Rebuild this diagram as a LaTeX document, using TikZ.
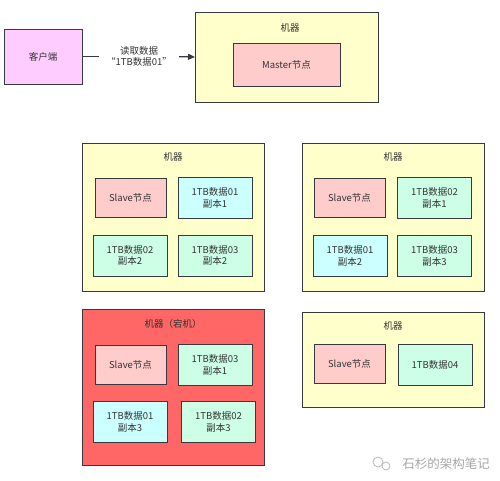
\documentclass[tikz,border=0pt]{standalone}
\usepackage{fontspec}
\setmainfont{Noto Sans CJK SC}
\usetikzlibrary{arrows.meta}
\definecolor{bordc}{HTML}{36393D}
\definecolor{txtc}{HTML}{333333}
\definecolor{machy}{HTML}{FFFFCC}
\definecolor{pinkc}{HTML}{FFCCCC}
\definecolor{cyanc}{HTML}{CCFFFF}
\definecolor{mintc}{HTML}{CCFFE6}
\definecolor{redc}{HTML}{FF6666}
\definecolor{clientc}{HTML}{FFCCFF}
\begin{document}
\begin{tikzpicture}[x=1pt,y=-1pt,
  box/.style={draw=bordc, line width=1pt, inner sep=0pt, outer sep=0pt, text=txtc,
    font=\fontsize{9.5}{11.5}\selectfont, align=center},
  machine/.style={box, fill=machy},
  slave/.style={box, fill=pinkc, minimum width=71pt, minimum height=39pt},
  dcyan/.style={box, fill=cyanc, minimum width=74pt, minimum height=41pt},
  dmint/.style={box, fill=mintc, minimum width=74pt, minimum height=41pt},
  ttl/.style={text=txtc, font=\fontsize{9.5}{11.5}\selectfont, inner sep=0pt}
]
\useasboundingbox (0,0) rectangle (500,480);
\fill[white] (0,0) rectangle (500,480);

% client
\node[box, fill=clientc, minimum width=78pt, minimum height=55pt] (client) at (43,56.5) {客户端};

% master machine
\node[machine, minimum width=183pt, minimum height=90pt] (m0) at (286.5,57) {};
\node[ttl] (m0t) at (290,28) {机器};
\node[box, fill=pinkc, minimum width=107pt, minimum height=43pt] (master) at (286.5,64.5) {Master节点};

% arrow with label
\node[ttl, align=center, inner sep=0pt, font=\fontsize{9.5}{11}\selectfont] (lbl) at (139,56.5) {读取数据\\“1TB数据01”};
\draw[bordc, line width=1.2pt, shorten >=7pt] (client.east) -- (lbl.west);
\draw[bordc, line width=1.2pt, shorten <=7pt, -{Triangle[length=7pt,width=6pt]}] (lbl.east) -- (m0.west);

% machine 1
\node[machine, minimum width=182pt, minimum height=148pt] (m1) at (173,217) {};
\node[ttl] (m1t) at (173,157) {机器};
\node[slave] (s1) at (130.5,197.5) {Slave节点};
\node[dcyan] (d11) at (215,198) {1TB数据01\\副本1};
\node[dmint] (d12) at (130,255.5) {1TB数据02\\副本2};
\node[dmint] (d13) at (215,255.5) {1TB数据03\\副本2};

% machine 2
\node[machine, minimum width=182pt, minimum height=148pt] (m2) at (393,217) {};
\node[ttl] (m2t) at (393,157) {机器};
\node[slave] (s2) at (349.5,197.5) {Slave节点};
\node[dmint] (d21) at (434.5,198) {1TB数据02\\副本1};
\node[dcyan] (d22) at (350,256) {1TB数据01\\副本2};
\node[dmint] (d23) at (434.5,256) {1TB数据03\\副本3};

% machine 3 (down)
\node[box, fill=redc, minimum width=182pt, minimum height=156pt] (m3) at (173,387) {};
\node[ttl] (m3t) at (173,324) {机器（宕机）};
\node[slave] (s3) at (130.5,364.5) {Slave节点};
\node[dmint] (d31) at (215,365) {1TB数据03\\副本1};
\node[dcyan] (d32) at (130,422) {1TB数据01\\副本3};
\node[dmint] (d33) at (218.5,422) {1TB数据02\\副本3};

% machine 4
\node[machine, minimum width=182pt, minimum height=95pt] (m4) at (393,359.5) {};
\node[ttl] (m4t) at (393,326) {机器};
\node[slave] (s4) at (349.5,364) {Slave节点};
\node[dmint] (d41) at (435,365) {1TB数据04};

% watermark
\node[text=gray!70, font=\fontsize{12.5}{14}\selectfont, inner sep=0pt] (wm) at (446,464) {石杉的架构笔记};
\draw[gray!60, line width=0.7pt] (378,462) circle (5pt);
\draw[gray!60, line width=0.7pt] (386,466) circle (4pt);
\end{tikzpicture}
\end{document}
